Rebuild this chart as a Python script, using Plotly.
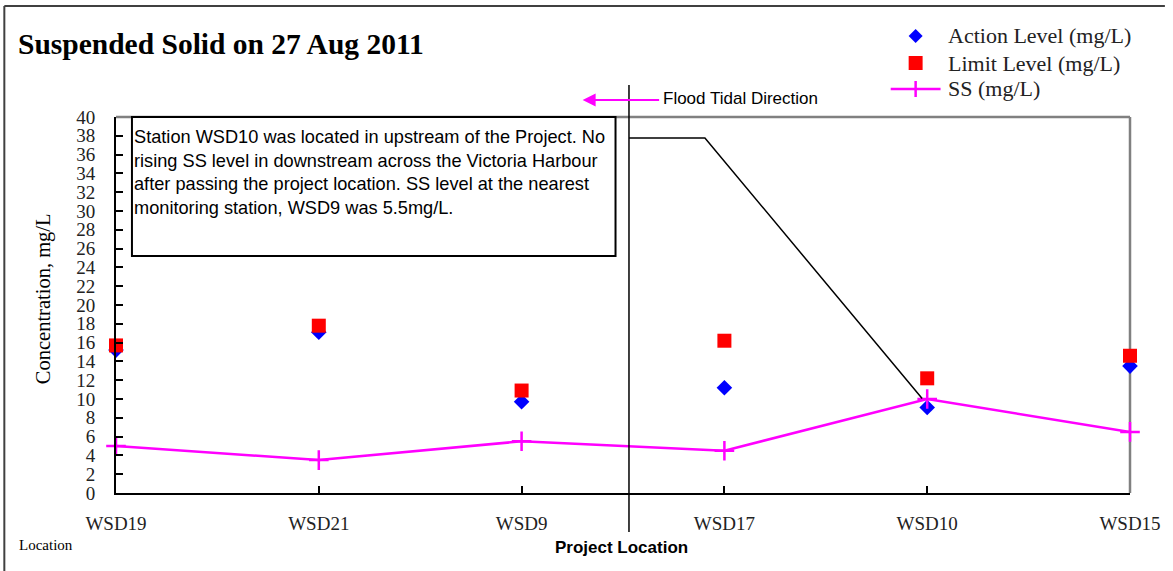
import plotly.graph_objects as go

# ---- data ----
locations = ["WSD19", "WSD21", "WSD9", "WSD17", "WSD10", "WSD15"]
action_level = [15.2, 17.1, 9.7, 11.2, 9.1, 13.5]
limit_level = [15.7, 17.8, 10.9, 16.2, 12.2, 14.6]
ss_values = [5.0, 3.5, 5.5, 4.5, 10.0, 6.5]
y_ticks = list(range(0, 41, 2))
legend_labels = ["Action Level (mg/L)", "Limit Level (mg/L)", "SS (mg/L)"]

x_idx = list(range(len(locations)))

# ---- layout geometry (pixels) ----
W, H = 1173, 571
L, R, T, B = 116, 40, 117, 78
PW = W - L - R
PH = H - T - B


def px(xp):
    return (xp - L) / PW


def py(yp):
    return (H - B - yp) / PH


SERIF = "Liberation Serif, Times New Roman, serif"
SANS = "Liberation Sans, Arial, sans-serif"
BLUE, RED, MAGENTA = "#0000FF", "#FF0000", "#FF00FF"

fig = go.Figure()

fig.add_trace(go.Scatter(
    x=x_idx, y=action_level, mode="markers", name=legend_labels[0],
    marker=dict(symbol="diamond", size=12, color=BLUE),
    cliponaxis=False, showlegend=False,
))
fig.add_trace(go.Scatter(
    x=x_idx, y=limit_level, mode="markers", name=legend_labels[1],
    marker=dict(symbol="square", size=14, color=RED),
    cliponaxis=False, showlegend=False,
))
fig.add_trace(go.Scatter(
    x=x_idx, y=ss_values, mode="lines+markers", name=legend_labels[2],
    line=dict(color=MAGENTA, width=2.5),
    marker=dict(symbol="cross-thin", size=14, color=MAGENTA,
                line=dict(color=MAGENTA, width=2.5)),
    cliponaxis=False, showlegend=False,
))

shapes = []
# top & right plot borders (gray)
shapes.append(dict(type="line", xref="paper", yref="paper", x0=0, x1=1, y0=1, y1=1,
                   line=dict(color="#808080", width=2.5), layer="below"))
shapes.append(dict(type="line", xref="paper", yref="paper", x0=1, x1=1, y0=0, y1=1,
                   line=dict(color="#808080", width=2.5), layer="below"))
# outer frame (top and left)
shapes.append(dict(type="line", xref="paper", yref="paper", x0=px(4), x1=px(1168), y0=py(6), y1=py(6),
                   line=dict(color="#404040", width=2)))
shapes.append(dict(type="line", xref="paper", yref="paper", x0=px(4), x1=px(4), y0=py(6), y1=py(575),
                   line=dict(color="#404040", width=2)))
# project location vertical line
shapes.append(dict(type="line", xref="paper", yref="paper", x0=px(630.5), x1=px(630.5),
                   y0=py(85), y1=py(532), line=dict(color="black", width=1.5)))
# comment box
shapes.append(dict(type="rect", xref="paper", yref="paper", x0=px(132), x1=px(617),
                   y0=py(256), y1=py(117), line=dict(color="black", width=2),
                   fillcolor="white"))
# path line from project location to WSD10
shapes.append(dict(type="path", xref="x", yref="y",
                   path="M 2.530,37.77 L 2.904,37.77 L 3.975,10.05",
                   line=dict(color="black", width=1.5)))

# ---- manual legend ----
lx, r1, r2, r3 = 918, 36, 63, 89


def ppath(points):
    return "M " + " L ".join(f"{px(a):.5f},{py(b):.5f}" for a, b in points) + " Z"


shapes.append(dict(type="path", xref="paper", yref="paper",
                   path=ppath([(lx, r1 - 7), (lx + 7, r1), (lx, r1 + 7), (lx - 7, r1)]),
                   fillcolor=BLUE, line=dict(width=0)))
shapes.append(dict(type="rect", xref="paper", yref="paper",
                   x0=px(lx - 7), x1=px(lx + 7), y0=py(r2 + 7), y1=py(r2 - 7),
                   fillcolor=RED, line=dict(width=0)))
shapes.append(dict(type="line", xref="paper", yref="paper",
                   x0=px(893), x1=px(943), y0=py(r3), y1=py(r3),
                   line=dict(color=MAGENTA, width=2.5)))
shapes.append(dict(type="line", xref="paper", yref="paper",
                   x0=px(lx), x1=px(lx), y0=py(r3 - 8), y1=py(r3 + 8),
                   line=dict(color=MAGENTA, width=2.5)))

annotations = []
for lbl, ry in zip(legend_labels, [r1, r2, r3]):
    annotations.append(dict(
        text=lbl, xref="paper", yref="paper", x=px(948), y=py(ry),
        xanchor="left", yanchor="middle", showarrow=False,
        font=dict(family=SERIF, size=22, color="#222")))

annotations.append(dict(
    text="<b>Suspended Solid on 27 Aug 2011</b>", xref="paper", yref="paper",
    x=px(16), y=py(44), xanchor="left", yanchor="middle", showarrow=False,
    font=dict(family=SERIF, size=29.5, color="black")))
annotations.append(dict(
    text="Concentration, mg/L", xref="paper", yref="paper", textangle=-90,
    x=px(43), y=py(299), xanchor="center", yanchor="middle", showarrow=False,
    font=dict(family=SERIF, size=20.5, color="black")))
annotations.append(dict(
    text="Station WSD10 was located in upstream of the Project. No<br>"
         "rising SS level in downstream across the Victoria Harbour<br>"
         "after passing the project location. SS level at the nearest<br>"
         "monitoring station, WSD9 was 5.5mg/L.",
    xref="paper", yref="paper", x=px(132), y=py(125), xanchor="left", yanchor="top",
    align="left", showarrow=False, font=dict(family=SANS, size=18.2, color="black")))
annotations.append(dict(
    text="Flood Tidal Direction", xref="paper", yref="paper",
    x=px(663), y=py(98), xanchor="left", yanchor="middle", showarrow=False,
    font=dict(family=SANS, size=17, color="black")))
annotations.append(dict(
    text="", xref="paper", yref="paper", x=px(584), y=py(100),
    ax=78, ay=0, showarrow=True, arrowhead=2, arrowsize=1.3, arrowwidth=2,
    arrowcolor=MAGENTA, standoff=0))
annotations.append(dict(
    text="<b>Project Location</b>", xref="paper", yref="paper",
    x=px(623), y=py(547), xanchor="center", yanchor="middle", showarrow=False,
    font=dict(family=SANS, size=17, color="black")))
annotations.append(dict(
    text="Location", xref="paper", yref="paper",
    x=px(17), y=py(545), xanchor="left", yanchor="middle", showarrow=False,
    font=dict(family=SERIF, size=15, color="black")))

fig.update_layout(
    width=W, height=H,
    margin=dict(l=L, r=R, t=T, b=B),
    paper_bgcolor="white", plot_bgcolor="white",
    shapes=shapes, annotations=annotations,
    showlegend=False,
    xaxis=dict(
        range=[0, 5], tickmode="array", tickvals=x_idx, ticktext=locations,
        showgrid=False, zeroline=False, showline=True, linecolor="black", linewidth=2,
        ticks="inside", ticklen=7, tickwidth=1.5, tickcolor="black",
        tickfont=dict(family=SERIF, size=19, color="#222"),
        ticklabelstandoff=12,
    ),
    yaxis=dict(
        range=[0, 40], tickmode="array", tickvals=y_ticks,
        showgrid=False, zeroline=False, showline=True, linecolor="black", linewidth=2,
        ticks="inside", ticklen=7, tickwidth=1.5, tickcolor="black",
        tickfont=dict(family=SERIF, size=19, color="#222"),
        ticklabelstandoff=15,
    ),
)

fig.write_html(
    "out.html",
    config={"displayModeBar": False},
    post_script="document.body.style.margin='0';document.body.style.overflow='hidden';",
)
